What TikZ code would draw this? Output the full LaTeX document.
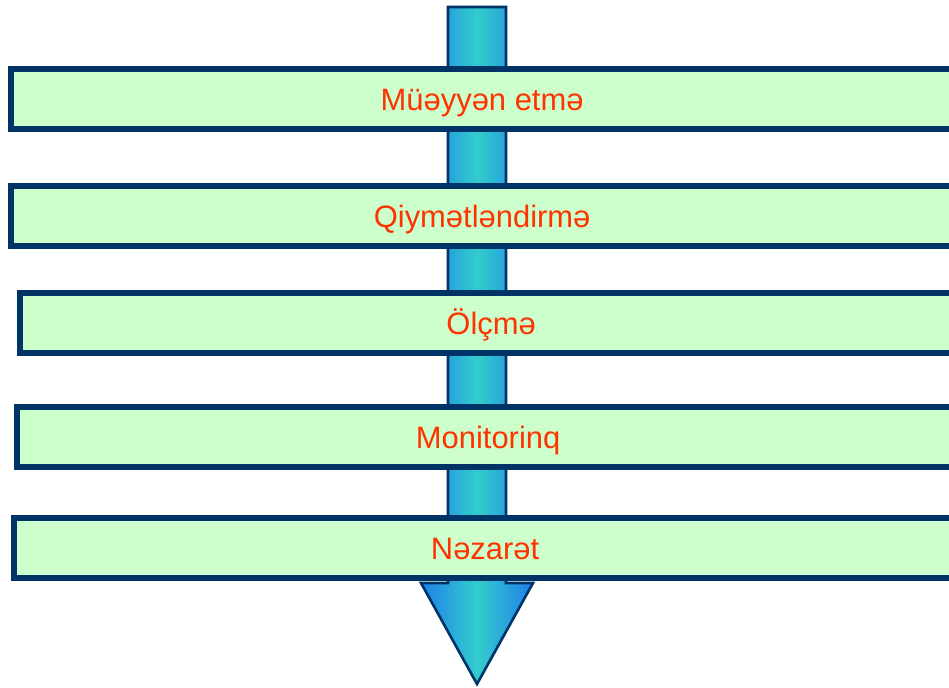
\documentclass[tikz,border=0pt]{standalone}
\usepackage{fontspec}
\setmainfont{Liberation Sans}
\definecolor{stageGreen}{RGB}{204,255,204}
\definecolor{stageNavy}{RGB}{0,51,102}
\definecolor{stageRed}{RGB}{255,51,0}
\definecolor{arrowBlue}{RGB}{30,128,235}
\definecolor{arrowTeal}{RGB}{51,204,204}
\usetikzlibrary{positioning}

\begin{document}
\begin{tikzpicture}[x=0.025cm, y=-0.025cm,
  stage/.style={draw=stageNavy, fill=stageGreen, line width=0.15cm,
    minimum width=23.55cm, minimum height=1.5cm, anchor=west, inner sep=0pt,
    text=stageRed, text height=15.8pt, text depth=0pt,
    font=\fontsize{22}{26}\selectfont}]
  \useasboundingbox (0,0) rectangle (949,688);
  % arrow behind the stages
  \shadedraw[draw=stageNavy, line width=0.065cm,
    left color=arrowBlue, right color=arrowBlue, middle color=arrowTeal]
    (448,7) -- (506,7) -- (506,583) -- (533,583) -- (477,684)
    -- (421,583) -- (448,583) -- cycle;
  % stages
  \node[stage] (define)  at (8,99)   {Müəyyən etmə};
  \node[stage] (assess)  at (8,216)  {Qiymətləndirmə};
  \node[stage] (measure) at (17,323) {Ölçmə};
  \node[stage] (monitor) at (14,437) {Monitorinq};
  \node[stage] (control) at (11,548) {Nəzarət};
\end{tikzpicture}
\end{document}
